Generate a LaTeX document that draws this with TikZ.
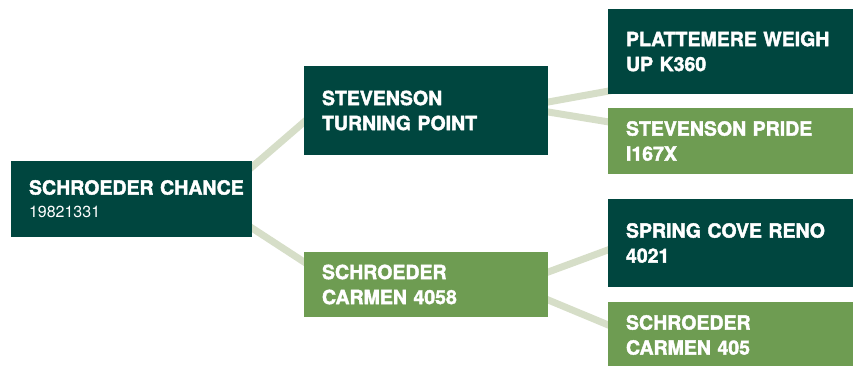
\documentclass[tikz,border=0pt]{standalone}
\usepackage{fontspec}
\setmainfont{TeX Gyre Heros}[BoldFeatures={FakeBold=2}]
\usepackage{tikz}
\usetikzlibrary{backgrounds}
\definecolor{pine}{HTML}{00463F}
\definecolor{moss}{HTML}{6E9C52}
\definecolor{sage}{HTML}{D6DEC8}
\tikzset{
  box/.style={inner xsep=18pt, inner ysep=0pt, align=left, text=white,
    font=\fontsize{19.5}{25}\selectfont\bfseries},
  dark/.style={box, fill=pine},
  light/.style={box, fill=moss},
  link/.style={draw=sage, line width=7pt, shorten <=-4pt, shorten >=-4pt}
}
\newcommand{\regno}[1]{\par{\fontsize{16}{23}\selectfont\mdseries #1\par}}

\begin{document}
\begin{tikzpicture}[x=1pt, y=-1pt]
\useasboundingbox (0,0) rectangle (853,366);

% sire
\node[dark, text width=205pt, minimum height=76pt] (root) at (131.5,199)
  {SCHROEDER~CHANCE\regno{19821331}};

% sire's parents
\node[dark, text width=208pt, minimum height=89pt] (st) at (426,110.5)
  {STEVENSON\\TURNING~POINT};
\node[light, text width=208pt, minimum height=65pt] (sc) at (426,284.5)
  {SCHROEDER\\CARMEN~4058};

% grandparents
\node[dark, text width=211pt, minimum height=85pt] (pw) at (731.5,51.5)
  {PLATTEMERE~WEIGH\\UP~K360};
\node[light, text width=211pt, minimum height=66pt] (sp) at (731.5,141)
  {STEVENSON~PRIDE\\I167X};
\node[dark, text width=211pt, minimum height=88pt] (scr) at (731.5,243)
  {SPRING~COVE~RENO\\4021};
\node[light, text width=211pt, minimum height=66pt] (sc405) at (731.5,335)
  {SCHROEDER\\CARMEN~405};

\begin{scope}[on background layer]
\draw[link] ([yshift=-6pt]root.north east) -- ([yshift=33pt]st.south west);
\draw[link] ([yshift=9pt]root.south east) -- ([yshift=-10pt]sc.north west);
\draw[link] ([yshift=8.5pt]st.east) -- ([yshift=3pt]pw.south west);
\draw[link] ([yshift=-1.5pt]st.east) -- ([yshift=-14pt]sp.north west);
\draw[link] ([yshift=12.5pt]sc.east) -- ([yshift=-7pt]scr.west);
\draw[link] ([yshift=-15.5pt]sc.east) -- ([yshift=-23pt]sc405.north west);
\end{scope}
\end{tikzpicture}
\end{document}
